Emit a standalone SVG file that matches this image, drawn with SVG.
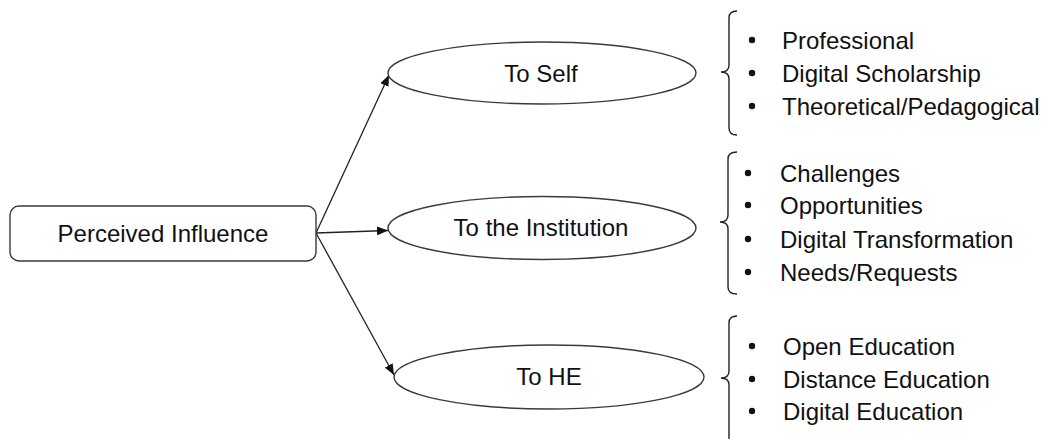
<svg xmlns="http://www.w3.org/2000/svg" width="1056" height="439" viewBox="0 0 1056 439">
<style>
  .node { fill: #ffffff; stroke: #3a3a3a; stroke-width: 1.4; }
  .lbl { font-family: "Liberation Sans", Arial, sans-serif; font-size: 24px; fill: #111111; }
  .mid { text-anchor: middle; }
  .conn { stroke: #222222; stroke-width: 1.3; fill: none; }
  .brace { stroke: #222222; stroke-width: 1.4; fill: none; }
  .dot { fill: #111111; }
</style>
<defs>
  <marker id="arrow" markerUnits="userSpaceOnUse" markerWidth="12" markerHeight="9" refX="11" refY="4.5" orient="auto">
    <path d="M0,0 L11,4.5 L0,9 Z" fill="#111111"/>
  </marker>
</defs>
<rect width="1056" height="439" fill="#ffffff"/>

<g id="connectors">
  <line class="conn" x1="316" y1="233" x2="389" y2="75" marker-end="url(#arrow)"/>
  <line class="conn" x1="316" y1="233" x2="388" y2="230.5" marker-end="url(#arrow)"/>
  <line class="conn" x1="316" y1="233" x2="394" y2="375" marker-end="url(#arrow)"/>
</g>

<g id="perceived-influence">
  <rect class="node" x="10" y="206" width="306" height="55" rx="9" ry="9"/>
  <text class="lbl mid" x="163" y="242">Perceived Influence</text>
</g>

<g id="to-self">
  <ellipse class="node" cx="542" cy="73" rx="154" ry="31"/>
  <text class="lbl mid" x="541" y="82">To Self</text>
</g>

<g id="to-institution">
  <ellipse class="node" cx="542" cy="228" rx="154" ry="31.5"/>
  <text class="lbl mid" x="541" y="236">To the Institution</text>
</g>

<g id="to-he">
  <ellipse class="node" cx="549" cy="377" rx="155" ry="32"/>
  <text class="lbl mid" x="549" y="385">To HE</text>
</g>

<g id="self-list">
  <path class="brace" d="M737,11 Q729,11 729,18 V65 Q729,72 721,72 Q729,72 729,79 V128 Q729,135 737,135"/>
  <circle class="dot" cx="752" cy="40" r="3.2"/>
  <circle class="dot" cx="752" cy="73" r="3.2"/>
  <circle class="dot" cx="752" cy="106" r="3.2"/>
  <text class="lbl" x="782" y="49">Professional</text>
  <text class="lbl" x="782" y="82">Digital Scholarship</text>
  <text class="lbl" x="782" y="115">Theoretical/Pedagogical</text>
</g>

<g id="institution-list">
  <path class="brace" d="M737,152 Q728,152 728,159 V215 Q728,222 720,222 Q728,222 728,229 V287 Q728,294 737,294"/>
  <circle class="dot" cx="748" cy="173" r="3.2"/>
  <circle class="dot" cx="748" cy="205" r="3.2"/>
  <circle class="dot" cx="748" cy="239" r="3.2"/>
  <circle class="dot" cx="748" cy="272" r="3.2"/>
  <text class="lbl" x="780" y="182">Challenges</text>
  <text class="lbl" x="780" y="214">Opportunities</text>
  <text class="lbl" x="780" y="248">Digital Transformation</text>
  <text class="lbl" x="780" y="281">Needs/Requests</text>
</g>

<g id="he-list">
  <path class="brace" d="M737,316 Q729,316 729,323 V371 Q729,378 721,378 Q729,378 729,385 V445"/>
  <circle class="dot" cx="752" cy="346" r="3.2"/>
  <circle class="dot" cx="752" cy="379" r="3.2"/>
  <circle class="dot" cx="752" cy="411" r="3.2"/>
  <text class="lbl" x="783" y="355">Open Education</text>
  <text class="lbl" x="783" y="388">Distance Education</text>
  <text class="lbl" x="783" y="420">Digital Education</text>
</g>
</svg>
